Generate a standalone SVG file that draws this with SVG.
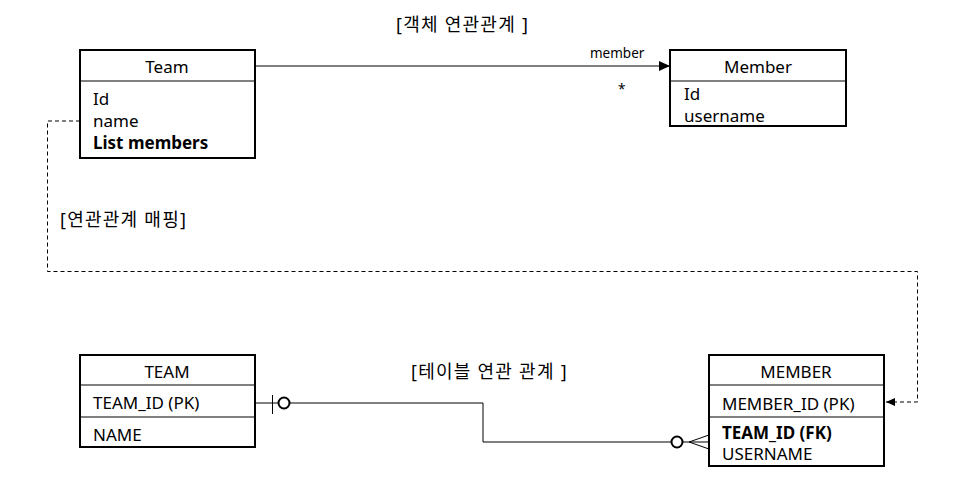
<svg xmlns="http://www.w3.org/2000/svg" width="959" height="503" viewBox="0 0 959 503">
<style>
text{font-family:"Noto Sans","Noto Sans CJK KR",sans-serif;font-size:17px;fill:#000}
.k{font-size:18px;letter-spacing:1.25px}
.b{font-weight:bold}
.c{text-anchor:middle}
.s{font-size:13.5px}
.box{fill:#fff;stroke:#000;stroke-width:2}
.ln{fill:none;stroke:#000;stroke-width:1}
.dash{fill:none;stroke:#000;stroke-width:1;stroke-dasharray:4 3}
</style>
<defs>
<marker id="arr" markerWidth="12" markerHeight="10" refX="11" refY="5" orient="auto" markerUnits="userSpaceOnUse">
<path d="M0,0 L11,5 L0,10 Z" fill="#000"/>
</marker>
<marker id="arrs" markerWidth="10" markerHeight="8" refX="9" refY="4" orient="auto" markerUnits="userSpaceOnUse">
<path d="M0,0 L9,4 L0,8 Z" fill="#000"/>
</marker>
</defs>
<rect width="959" height="503" fill="#fff"/>
<text class="k" x="396" y="31">[객체 연관관계 ]</text>
<text class="k" x="60" y="226">[연관관계 매핑]</text>
<text class="k" x="411" y="378">[테이블 연관 관계 ]</text>
<g id="connectors">
<line class="ln" x1="255" y1="66" x2="670" y2="66" marker-end="url(#arr)"/>
<text class="s" x="590" y="58">member</text>
<text class="s" x="618" y="94">*</text>
<polyline class="dash" points="80,121 47.5,121 47.5,271.5 917.5,271.5 917.5,402 886,402" marker-end="url(#arrs)"/>
<polyline class="ln" points="255,403 483,403 483,442 709,442"/>
<line class="ln" x1="272.5" y1="395" x2="272.5" y2="414"/>
<circle cx="284" cy="403" r="5.5" fill="#fff" stroke="#000" stroke-width="2"/>
<circle cx="677" cy="442" r="5.5" fill="#fff" stroke="#000" stroke-width="2"/>
<line class="ln" x1="689" y1="442" x2="709" y2="435"/>
<line class="ln" x1="689" y1="442" x2="709" y2="449"/>
</g>
<g id="team">
<rect class="box" x="80" y="50" width="175" height="108"/>
<line class="ln" x1="80" y1="81" x2="255" y2="81" stroke-width="2"/>
<text class="c" x="167" y="73">Team</text>
<text x="93" y="105">Id</text>
<text x="93" y="127">name</text>
<text class="b" x="93" y="149">List members</text>
</g>
<g id="member">
<rect class="box" x="670" y="50" width="176" height="76"/>
<line class="ln" x1="670" y1="81" x2="846" y2="81" stroke-width="2"/>
<text class="c" x="758" y="73">Member</text>
<text x="684" y="100">Id</text>
<text x="684" y="122">username</text>
</g>
<g id="TEAM">
<rect class="box" x="80" y="355" width="175" height="92"/>
<line class="ln" x1="80" y1="385" x2="255" y2="385" stroke-width="2"/>
<line class="ln" x1="80" y1="417" x2="255" y2="417" stroke-width="2"/>
<text class="c" x="167" y="378">TEAM</text>
<text x="93" y="409">TEAM_ID (PK)</text>
<text x="93" y="441">NAME</text>
</g>
<g id="MEMBER">
<rect class="box" x="709" y="355" width="175" height="111"/>
<line class="ln" x1="709" y1="385" x2="884" y2="385" stroke-width="2"/>
<line class="ln" x1="709" y1="417" x2="884" y2="417" stroke-width="2"/>
<text class="c" x="796" y="378">MEMBER</text>
<text x="722" y="410">MEMBER_ID (PK)</text>
<text class="b" x="722" y="439">TEAM_ID (FK)</text>
<text x="722" y="460">USERNAME</text>
</g>
</svg>
